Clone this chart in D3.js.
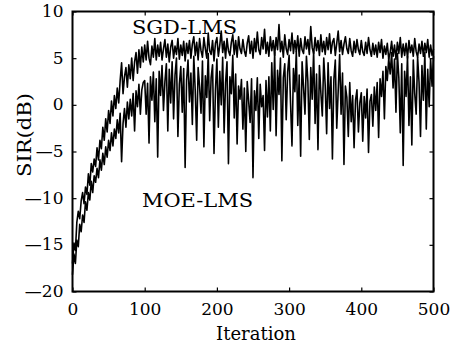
<!DOCTYPE html>
<html>
<head>
<meta charset="utf-8">
<script src="https://cdn.jsdelivr.net/npm/d3@7"></script>
<style>
  html, body { margin: 0; padding: 0; background: #fff; }
  svg { display: block; }
  text { font-family: "DejaVu Serif", "Liberation Serif", serif; fill: #000; }
</style>
</head>
<body>
<svg id="chart" width="456" height="351"></svg>
<script>
// ---- data (every 2 iterations) ----
const iterations = d3.range(0, 501, 2);

const sgdLms = [
  -17.0, -14.8, -15.6, -12.6, -11.4, -12.2, -10.3, -9.4, -10.6, -8.8,
  -9.6, -7.4, -8.6, -6.3, -7.2, -5.8, -6.6, -4.6, -5.9, -3.8,
  -4.7, -2.4, -3.8, -1.5, -2.9, -0.6, -2.0, 0.4, -1.2, 1.0,
  -0.4, 1.8, 0.2, 2.6, 4.5, 1.2, 3.0, 4.0, 1.9, 4.3,
  2.8, 5.0, 2.6, 4.6, 5.6, 3.4, 5.9, 4.0, 6.2, 4.6,
  6.4, 4.8, 6.8, 5.0, 4.3, 6.3, 5.1, 7.1, 4.8, 6.4,
  5.2, 6.7, 4.8, 6.0, 7.0, 5.1, 6.5, 4.6, 6.2, 6.9,
  5.0, 6.3, 5.4, 7.1, 4.9, 6.4, 5.3, 6.8, 4.7, 6.6,
  5.5, 6.9, 5.0, 6.5, 7.3, 5.3, 6.7, 4.8, 7.1, 5.8,
  5.1, 7.2, 6.0, 5.0, 7.7, 5.8, 5.4, 6.9, 4.7, 6.6,
  7.2, 5.2, 6.4, 7.9, 5.6, 6.8, 5.0, 7.1, 5.8, 5.3,
  6.7, 7.5, 5.4, 6.9, 5.1, 7.3, 6.0, 5.5, 7.0, 5.8,
  5.2, 6.6, 7.4, 5.5, 6.8, 5.0, 7.1, 5.7, 7.8, 5.9,
  5.4, 7.2, 6.0, 8.1, 5.5, 6.7, 5.2, 7.3, 5.8, 6.9,
  5.3, 7.2, 5.9, 8.6, 5.7, 6.8, 5.1, 7.5, 6.0, 5.4,
  7.0, 5.8, 7.7, 5.5, 6.9, 5.7, 7.4, 5.2, 7.1, 5.9,
  5.5, 7.3, 6.0, 7.0, 5.4, 8.4, 6.1, 5.5, 7.2, 5.8,
  6.9, 5.3, 7.5, 5.7, 6.8, 5.4, 7.2, 5.9, 7.6, 5.5,
  6.7, 7.1, 5.3, 6.6, 7.9, 5.7, 6.9, 5.4, 6.5, 7.3,
  6.0, 5.5, 7.1, 5.8, 5.2, 6.8, 5.6, 7.0, 5.9, 5.4,
  6.9, 5.7, 5.3, 6.7, 5.5, 7.2, 5.9, 5.2, 6.6, 5.4,
  6.4, 5.1, 6.7, 5.6, 7.0, 5.0, 6.3, 5.4, 6.6, 4.9,
  5.6, 6.8, 5.2, 6.4, 4.9, 6.7, 5.5, 7.2, 5.1, 6.5,
  5.3, 6.6, 5.0, 6.9, 5.6, 6.4, 5.2, 7.1, 5.7, 5.1,
  6.5, 5.5, 6.8, 5.2, 6.6, 5.6, 7.0, 5.1, 6.4, 5.3,
  6.0
];

const moeLms = [
  -18.2, -16.0, -17.0, -14.5, -15.2, -12.8, -13.6, -11.8, -12.6, -10.4,
  -11.3, -9.4, -10.2, -8.2, -9.4, -7.6, -8.3, -6.8, -7.8, -5.9,
  -7.0, -5.2, -6.4, -4.5, -5.6, -3.8, -4.9, -3.0, -4.4, -2.6,
  -3.6, -1.6, -3.0, -0.9, -6.1, -2.0, -0.4, -2.4, 0.3, -1.5,
  0.6, -1.2, 1.2, -2.8, 1.5, -0.2, 2.2, -1.0, 1.6, 2.4,
  2.6, -1.0, 2.3, -4.1, 3.0, 0.5, 3.5, -1.8, 2.8, -5.6,
  3.6, 1.0, 4.2, -0.6, 2.5, 4.4, -2.8, 3.8, 0.2, 4.6,
  -1.5, 3.2, 5.0, -3.4, 2.2, 4.1, -0.8, 3.9, -6.7, 2.6,
  4.8, 0.3, 3.4, -2.1, 5.2, 1.5, -3.8, 4.0, 2.0, -0.9,
  4.7, -4.5, 3.1, 0.8, 5.5, -1.7, 2.9, 4.3, -5.2, 1.6,
  4.9, -2.4, 3.6, 0.0, 5.1, -3.0, 2.4, 4.6, -6.3, 3.0,
  1.2, 5.3, -1.4, 3.3, -4.2, 2.0, 0.6, 2.7, -2.6, 1.8,
  -5.0, 2.5, 0.4, -1.9, 2.8, -7.8, 1.5, -0.6, 2.9, -3.6,
  2.2, -0.2, 1.0, -4.9, 2.6, -1.3, 3.0, -2.8, 4.5, -0.5,
  5.6, -3.3, 3.7, 1.1, 5.0, -6.0, 2.9, 4.4, -1.6, 3.5,
  5.3, 0.2, -4.4, 3.9, 1.4, 5.7, -2.2, 3.2, -5.5, 4.6,
  1.9, -1.0, 5.2, 2.5, -3.7, 4.0, 0.6, 5.8, -2.0, 3.3,
  -4.8, 4.2, 1.3, -1.2, 5.0, 2.1, -3.1, 4.5, -0.4, 3.0,
  -5.8, 2.7, 4.8, -2.5, 1.5, 5.4, -1.0, 3.4, -6.4, 2.0,
  0.8, -3.4, 2.4, -1.8, 1.0, -4.6, 0.5, 1.6, -2.9, 0.2,
  1.3, -3.9, 0.9, -1.4, 1.7, -5.1, 0.4, 1.1, -2.3, 1.9,
  -0.6, 2.4, -3.5, 2.8, 0.9, 3.6, -1.5, 4.1, 2.6, 5.0,
  3.3, 5.6, 1.8, 4.9, -0.8, 5.5, 2.9, -3.0, 4.4, -6.5,
  3.6, 0.9, 5.2, -2.2, 3.0, -4.3, 4.8, 1.2, -1.0, 5.1,
  2.4, -3.4, 4.2, 0.5, 5.6, -2.6, 3.8, -0.2, 4.9, 2.0,
  5.2
];

const xTicks = [0, 100, 200, 300, 400, 500];
const yTicks = [-20, -15, -10, -5, 0, 5, 10];
const yTickLabels = ["\u201420", "\u201415", "\u201410", "\u20145", "0", "5", "10"];
const seriesLabels = ["SGD-LMS", "MOE-LMS"];
const xTitle = "Iteration";
const yTitle = "SIR(dB)";

// ---- layout ----
const mLeft = 72.5, mRight = 433.5, mTop = 11.5, mBottom = 291.5;
const svg = d3.select("#chart");

const x = d3.scaleLinear().domain([0, 500]).range([mLeft, mRight]);
const y = d3.scaleLinear().domain([-20, 10]).range([mBottom, mTop]);

const line = d3.line()
  .x((d, i) => x(iterations[i]))
  .y(d => y(d));

// series
svg.append("path").datum(moeLms)
  .attr("d", line).attr("fill", "none")
  .attr("stroke", "#000").attr("stroke-width", 1.6).attr("stroke-linejoin", "round");
svg.append("path").datum(sgdLms)
  .attr("d", line).attr("fill", "none")
  .attr("stroke", "#000").attr("stroke-width", 1.6).attr("stroke-linejoin", "round");

// axes with inward ticks on all four sides
const tickLen = 4;
const axB = svg.append("g").attr("transform", `translate(0,${mBottom})`)
  .call(d3.axisBottom(x).tickValues(xTicks).tickSizeInner(-tickLen).tickSizeOuter(0).tickPadding(9));
const axT = svg.append("g").attr("transform", `translate(0,${mTop})`)
  .call(d3.axisTop(x).tickValues(xTicks).tickSizeInner(-tickLen).tickSizeOuter(0).tickFormat(""));
const axL = svg.append("g").attr("transform", `translate(${mLeft},0)`)
  .call(d3.axisLeft(y).tickValues(yTicks).tickSizeInner(-tickLen).tickSizeOuter(0).tickPadding(9)
    .tickFormat((d, i) => yTickLabels[i]));
const axR = svg.append("g").attr("transform", `translate(${mRight},0)`)
  .call(d3.axisRight(y).tickValues(yTicks).tickSizeInner(-tickLen).tickSizeOuter(0).tickFormat(""));

[axB, axT, axL, axR].forEach(g => {
  g.select(".domain").remove();
  g.selectAll(".tick line").attr("stroke", "#000").attr("stroke-width", 1.2);
});
axB.selectAll("text").attr("font-family", "DejaVu Serif").attr("font-size", 17).attr("fill", "#000");
axL.selectAll("text").attr("font-family", "DejaVu Serif").attr("font-size", 17).attr("fill", "#000")
  .attr("dy", "0.3em");
axB.selectAll("text").attr("dy", "0.85em");

// frame
svg.append("rect")
  .attr("x", mLeft).attr("y", mTop)
  .attr("width", mRight - mLeft).attr("height", mBottom - mTop)
  .attr("fill", "none").attr("stroke", "#000").attr("stroke-width", 2);

// titles
svg.append("text").attr("x", (mLeft + mRight) / 2 + 3).attr("y", 340)
  .attr("text-anchor", "middle").attr("font-size", 18).text(xTitle);
svg.append("text").attr("transform", "translate(31,135) rotate(-90)")
  .attr("text-anchor", "middle").attr("font-size", 18)
  .attr("textLength", 84).attr("lengthAdjust", "spacingAndGlyphs").text(yTitle);

// series annotations
svg.append("text").attr("x", 132).attr("y", 34).attr("font-size", 18)
  .attr("textLength", 105).attr("lengthAdjust", "spacingAndGlyphs").text(seriesLabels[0]);
svg.append("text").attr("x", 142).attr("y", 207).attr("font-size", 18)
  .attr("textLength", 111).attr("lengthAdjust", "spacingAndGlyphs").text(seriesLabels[1]);
</script>
</body>
</html>
